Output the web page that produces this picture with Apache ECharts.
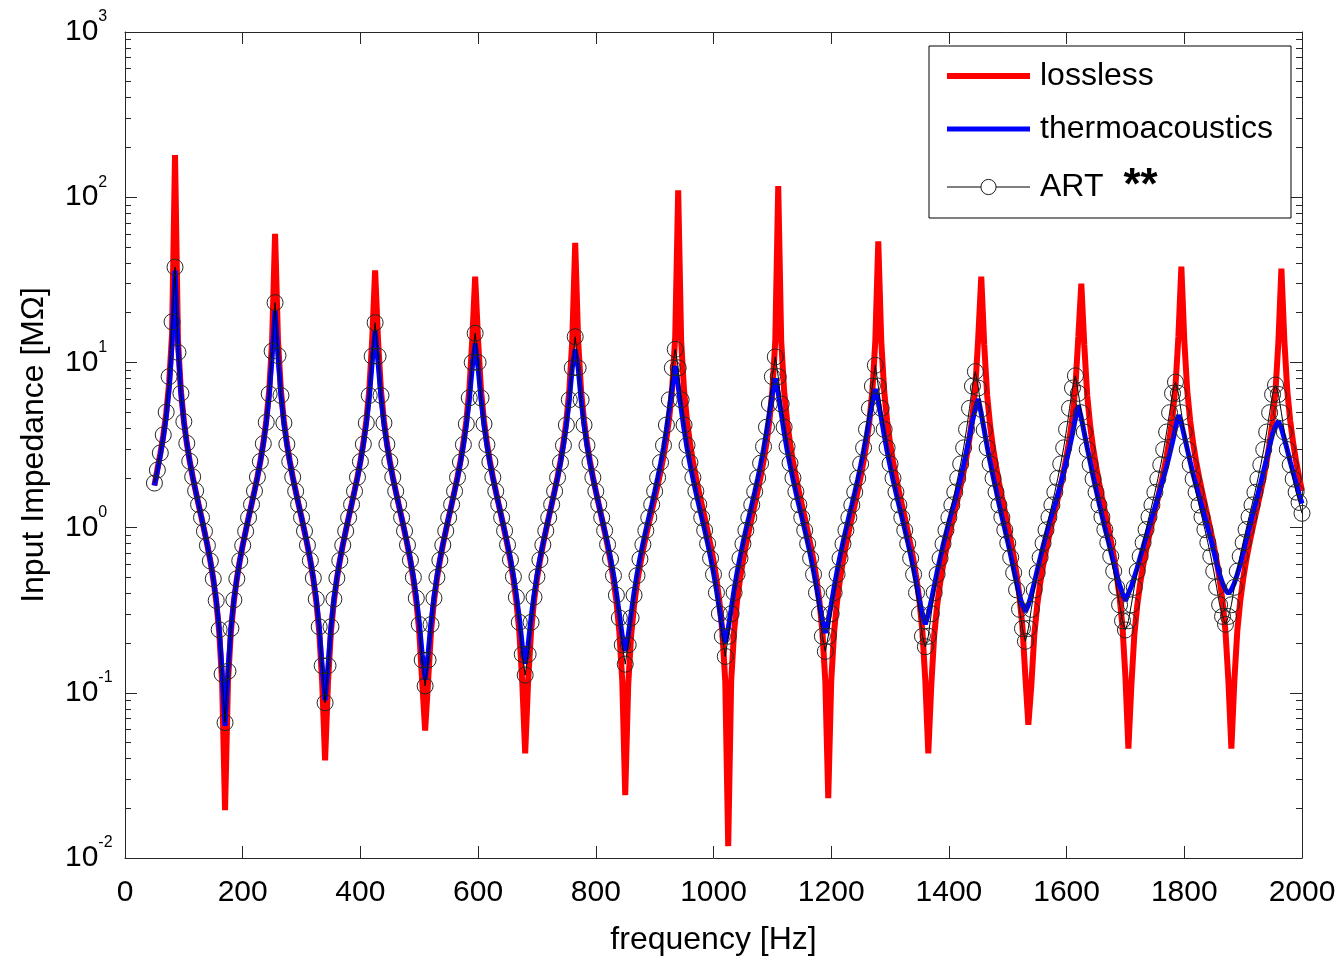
<!DOCTYPE html>
<html>
<head>
<meta charset="utf-8">
<script src="https://cdn.jsdelivr.net/npm/echarts@6/dist/echarts.min.js"></script>
<style>
html,body{margin:0;padding:0;background:#fff;}
#chart{width:1343px;height:960px;}
</style>
</head>
<body>
<div id="chart"></div>
<script>
// frequency sampling grid (Hz): 50, 55, ..., 2000
const frequency = [];
for (let f = 50; f <= 2000; f += 5) frequency.push(f);

// lossless model, |Z| in MOhm at each frequency
const lossless = [
  1.8, 2.25, 2.8, 3.6, 4.9, 7.5, 15,
  180,
  13.6, 6.73, 4.43, 3.25, 2.52, 2.03, 1.67, 1.38, 1.15, 0.95, 0.78, 0.628, 0.488, 0.358, 0.235, 0.117,
  0.0195,
  0.117, 0.235, 0.358, 0.488, 0.628, 0.78, 0.95, 1.15, 1.38, 1.67, 2.03, 2.52, 3.25, 4.43, 6.73, 13.6,
  60,
  13.6, 6.73, 4.43, 3.25, 2.52, 2.03, 1.67, 1.38, 1.15, 0.95, 0.78, 0.628, 0.488, 0.358, 0.235, 0.117,
  0.039,
  0.117, 0.235, 0.358, 0.488, 0.628, 0.78, 0.95, 1.15, 1.38, 1.67, 2.03, 2.52, 3.25, 4.43, 6.73, 13.6,
  36,
  13.6, 6.73, 4.43, 3.25, 2.52, 2.03, 1.67, 1.38, 1.15, 0.95, 0.78, 0.628, 0.488, 0.358, 0.235, 0.117,
  0.059,
  0.117, 0.235, 0.358, 0.488, 0.628, 0.78, 0.95, 1.15, 1.38, 1.67, 2.03, 2.52, 3.25, 4.43, 6.73, 13.6,
  33,
  13.6, 6.73, 4.43, 3.25, 2.52, 2.03, 1.67, 1.38, 1.15, 0.95, 0.78, 0.628, 0.488, 0.358, 0.235, 0.117,
  0.043,
  0.117, 0.235, 0.358, 0.488, 0.628, 0.78, 0.95, 1.15, 1.38, 1.67, 2.03, 2.52, 3.25, 4.43, 6.73, 13.6,
  53,
  13.6, 6.73, 4.43, 3.25, 2.52, 2.03, 1.67, 1.38, 1.15, 0.95, 0.78, 0.628, 0.488, 0.358, 0.235, 0.117,
  0.024,
  0.11, 0.222, 0.337, 0.458, 0.587, 0.727, 0.882, 1.056, 1.26, 1.5, 1.8, 2.18, 2.7, 3.46, 4.7, 7.14, 14.4,
  110,
  13.6, 6.73, 4.43, 3.25, 2.52, 2.03, 1.67, 1.38, 1.15, 0.95, 0.78, 0.628, 0.488, 0.358, 0.235, 0.117,
  0.0118,
  0.117, 0.235, 0.358, 0.488, 0.628, 0.78, 0.95, 1.15, 1.38, 1.67, 2.03, 2.52, 3.25, 4.43, 6.73, 13.6,
  117,
  13.6, 6.73, 4.43, 3.25, 2.52, 2.03, 1.67, 1.38, 1.15, 0.95, 0.78, 0.628, 0.488, 0.358, 0.235, 0.117,
  0.023,
  0.117, 0.235, 0.358, 0.488, 0.628, 0.78, 0.95, 1.15, 1.38, 1.67, 2.03, 2.52, 3.25, 4.43, 6.73, 13.6,
  54,
  13.6, 6.73, 4.43, 3.25, 2.52, 2.03, 1.67, 1.38, 1.15, 0.95, 0.78, 0.628, 0.488, 0.358, 0.235, 0.117,
  0.043,
  0.11, 0.222, 0.337, 0.458, 0.587, 0.727, 0.882, 1.056, 1.26, 1.5, 1.8, 2.18, 2.7, 3.46, 4.7, 7.14, 14.4,
  33,
  12.8, 6.33, 4.15, 3.04, 2.36, 1.88, 1.53, 1.26, 1.033, 0.841, 0.673, 0.522, 0.382, 0.25, 0.124,
  0.064,
  0.11, 0.222, 0.337, 0.458, 0.587, 0.727, 0.882, 1.056, 1.26, 1.5, 1.8, 2.18, 2.7, 3.46, 4.7, 7.14, 14.4,
  30,
  12.8, 6.33, 4.15, 3.04, 2.36, 1.88, 1.53, 1.26, 1.033, 0.841, 0.673, 0.522, 0.382, 0.25, 0.124,
  0.046,
  0.11, 0.222, 0.337, 0.458, 0.587, 0.727, 0.882, 1.056, 1.26, 1.5, 1.8, 2.18, 2.7, 3.46, 4.7, 7.14, 14.4,
  38,
  13.6, 6.73, 4.43, 3.25, 2.52, 2.03, 1.67, 1.38, 1.15, 0.95, 0.78, 0.628, 0.488, 0.358, 0.235, 0.117,
  0.046,
  0.117, 0.235, 0.358, 0.488, 0.628, 0.78, 0.95, 1.15, 1.38, 1.67, 2.03, 2.52, 3.25, 4.43, 6.73, 13.6,
  37,
  13.6, 6.73, 4.43, 3.25, 2.52, 2.03, 1.67
];

// thermoacoustic (lossy) model
const thermoacoustics = [
  1.8, 2.2, 2.75, 3.5, 4.7, 7.0, 13,
  36,
  12.5, 6.6, 4.4, 3.24, 2.52, 2.03, 1.67, 1.38, 1.15, 0.95, 0.78, 0.63, 0.49, 0.365, 0.245, 0.135,
  0.063,
  0.135, 0.245, 0.365, 0.49, 0.63, 0.78, 0.95, 1.15, 1.38, 1.66, 2.02, 2.51, 3.2, 4.3, 6.31, 10.9,
  20.5,
  10.9, 6.31, 4.3, 3.2, 2.51, 2.02, 1.66, 1.38, 1.15, 0.953, 0.783, 0.632, 0.495, 0.369, 0.251, 0.146,
  0.09,
  0.146, 0.251, 0.369, 0.495, 0.632, 0.783, 0.953, 1.15, 1.38, 1.66, 2.01, 2.5, 3.18, 4.24, 6.1, 10.0,
  15.5,
  10.0, 6.1, 4.24, 3.18, 2.5, 2.01, 1.66, 1.38, 1.15, 0.957, 0.787, 0.638, 0.504, 0.379, 0.267, 0.171,
  0.12,
  0.171, 0.267, 0.379, 0.504, 0.638, 0.787, 0.957, 1.15, 1.38, 1.66, 2.01, 2.48, 3.15, 4.18, 5.94, 9.27,
  13,
  9.27, 5.94, 4.18, 3.15, 2.48, 2.01, 1.66, 1.38, 1.15, 0.96, 0.79, 0.645, 0.512, 0.39, 0.284, 0.195,
  0.15,
  0.195, 0.284, 0.39, 0.512, 0.645, 0.79, 0.96, 1.15, 1.38, 1.66, 2.01, 2.48, 3.15, 4.18, 5.94, 9.27,
  12,
  9.27, 5.94, 4.18, 3.15, 2.48, 2.01, 1.66, 1.38, 1.15, 0.964, 0.798, 0.652, 0.521, 0.404, 0.301, 0.22,
  0.18,
  0.22, 0.301, 0.404, 0.521, 0.652, 0.798, 0.964, 1.15, 1.37, 1.64, 1.99, 2.43, 3.04, 3.93, 5.27, 7.19,
  9.5,
  7.19, 5.27, 3.93, 3.04, 2.43, 1.99, 1.64, 1.37, 1.15, 0.968, 0.805, 0.66, 0.533, 0.42, 0.32, 0.245,
  0.2,
  0.245, 0.32, 0.42, 0.533, 0.66, 0.805, 0.968, 1.15, 1.37, 1.635, 1.97, 2.4, 2.97, 3.79, 4.96, 6.5,
  8,
  6.5, 4.96, 3.79, 2.97, 2.4, 1.97, 1.635, 1.37, 1.16, 0.973, 0.811, 0.67, 0.545, 0.435, 0.341, 0.273,
  0.23,
  0.273, 0.341, 0.435, 0.545, 0.67, 0.811, 0.973, 1.16, 1.37, 1.63, 1.95, 2.37, 2.91, 3.65, 4.65, 5.81,
  6.9,
  5.81, 4.65, 3.65, 2.91, 2.37, 1.95, 1.63, 1.37, 1.16, 0.977, 0.82, 0.68, 0.56, 0.45, 0.36, 0.3,
  0.26,
  0.3, 0.36, 0.44, 0.54, 0.65, 0.78, 0.92, 1.08, 1.26, 1.45, 1.7, 2.0, 2.4, 2.9, 3.55, 4.4, 5.3,
  6.0,
  4.9, 3.9, 3.1, 2.5, 2.05, 1.7, 1.4, 1.17, 0.98, 0.82, 0.68, 0.56, 0.46, 0.385, 0.34,
  0.31,
  0.34, 0.39, 0.46, 0.55, 0.65, 0.77, 0.9, 1.05, 1.2, 1.37, 1.58, 1.84, 2.16, 2.56, 3.06, 3.7, 4.6,
  5.5,
  4.6, 3.75, 3.05, 2.5, 2.05, 1.7, 1.42, 1.19, 1.0, 0.85, 0.72, 0.61, 0.52, 0.45, 0.4,
  0.36,
  0.4, 0.44, 0.5, 0.57, 0.66, 0.76, 0.88, 1.01, 1.16, 1.32, 1.52, 1.75, 2.02, 2.35, 2.78, 3.3, 4.0,
  4.8,
  4.3, 3.6, 3.0, 2.5, 2.1, 1.8, 1.55, 1.34, 1.15, 0.99, 0.85, 0.72, 0.61, 0.52, 0.46, 0.42,
  0.4,
  0.42, 0.46, 0.52, 0.6, 0.71, 0.84, 0.99, 1.16, 1.36, 1.59, 1.87, 2.21, 2.62, 3.13, 3.68, 4.1,
  4.4,
  4.0, 3.45, 2.95, 2.5, 2.15, 1.85, 1.6, 1.4
];

// ART measurement / computation
const artValues = [
  1.86, 2.23, 2.83, 3.64, 5.0, 8.2, 17.6,
  37.7,
  11.5, 6.5, 4.38, 3.24, 2.52, 2.03, 1.67, 1.38, 1.15, 0.95, 0.78, 0.628, 0.49, 0.362, 0.241, 0.13,
  0.066,
  0.135, 0.245, 0.365, 0.49, 0.63, 0.78, 0.95, 1.15, 1.38, 1.665, 2.025, 2.515, 3.22, 4.34, 6.45, 11.7,
  23,
  11.0, 6.31, 4.3, 3.2, 2.51, 2.02, 1.66, 1.38, 1.15, 0.953, 0.783, 0.632, 0.495, 0.369, 0.251, 0.146,
  0.087,
  0.146, 0.251, 0.369, 0.495, 0.632, 0.783, 0.953, 1.15, 1.38, 1.66, 2.02, 2.51, 3.2, 4.3, 6.31, 10.9,
  17.4,
  10.9, 6.31, 4.3, 3.2, 2.51, 2.02, 1.66, 1.38, 1.15, 0.955, 0.785, 0.635, 0.5, 0.374, 0.259, 0.158,
  0.11,
  0.158, 0.259, 0.374, 0.5, 0.635, 0.785, 0.955, 1.15, 1.38, 1.66, 2.015, 2.495, 3.18, 4.24, 6.1, 10.0,
  15,
  10.0, 6.1, 4.24, 3.18, 2.495, 2.015, 1.66, 1.38, 1.15, 0.957, 0.787, 0.638, 0.504, 0.379, 0.267, 0.171,
  0.128,
  0.171, 0.267, 0.379, 0.504, 0.638, 0.787, 0.957, 1.15, 1.38, 1.66, 2.01, 2.48, 3.15, 4.18, 5.94, 9.27,
  14.3,
  9.27, 5.94, 4.18, 3.15, 2.48, 2.01, 1.66, 1.38, 1.15, 0.96, 0.79, 0.645, 0.512, 0.39, 0.284, 0.195,
  0.149,
  0.195, 0.284, 0.39, 0.512, 0.645, 0.79, 0.96, 1.15, 1.38, 1.66, 2.01, 2.48, 3.15, 4.18, 5.94, 9.27,
  12,
  9.27, 5.94, 4.18, 3.15, 2.48, 2.01, 1.66, 1.38, 1.15, 0.964, 0.798, 0.652, 0.521, 0.404, 0.301, 0.22,
  0.166,
  0.22, 0.301, 0.404, 0.521, 0.652, 0.798, 0.964, 1.15, 1.375, 1.65, 2.0, 2.455, 3.095, 4.055, 5.6, 8.2,
  10.8,
  8.2, 5.6, 4.055, 3.095, 2.455, 2.0, 1.65, 1.375, 1.15, 0.964, 0.798, 0.652, 0.521, 0.404, 0.301, 0.22,
  0.178,
  0.22, 0.301, 0.404, 0.521, 0.652, 0.798, 0.964, 1.15, 1.37, 1.64, 1.99, 2.43, 3.04, 3.93, 5.27, 7.19,
  9.6,
  7.19, 5.27, 3.93, 3.04, 2.43, 1.99, 1.64, 1.37, 1.15, 0.964, 0.798, 0.652, 0.521, 0.404, 0.301, 0.22,
  0.19,
  0.22, 0.301, 0.404, 0.521, 0.652, 0.798, 0.964, 1.15, 1.37, 1.64, 1.99, 2.43, 3.04, 3.93, 5.27, 7.19,
  8.8,
  7.0, 5.2, 3.9, 3.04, 2.43, 1.99, 1.64, 1.37, 1.155, 0.968, 0.805, 0.66, 0.533, 0.42, 0.32, 0.245,
  0.205,
  0.245, 0.32, 0.42, 0.533, 0.66, 0.805, 0.968, 1.155, 1.37, 1.64, 1.99, 2.43, 3.04, 3.93, 5.27, 7.0,
  8.3,
  6.5, 4.96, 3.79, 2.97, 2.4, 1.97, 1.635, 1.37, 1.16, 0.973, 0.811, 0.67, 0.545, 0.435, 0.341, 0.273,
  0.24,
  0.273, 0.341, 0.435, 0.545, 0.67, 0.811, 0.973, 1.16, 1.37, 1.635, 1.97, 2.4, 2.97, 3.79, 4.96, 6.5,
  7.6,
  6.5, 4.96, 3.79, 2.97, 2.4, 1.97, 1.635, 1.37, 1.16, 0.973, 0.811, 0.67, 0.545, 0.435, 0.341, 0.29,
  0.26,
  0.29, 0.341, 0.435, 0.545, 0.67, 0.811, 0.973, 1.16, 1.37, 1.635, 1.97, 2.4, 2.97, 3.79, 4.96, 6.4,
  7.3,
  6.4, 4.96, 3.79, 2.97, 2.4, 1.97, 1.64, 1.42, 1.22
];

const seriesNames = ['lossless', 'thermoacoustics', 'ART'];
const xTickValues = [0, 200, 400, 600, 800, 1000, 1200, 1400, 1600, 1800, 2000];
const yMinorTicks = [
  0.02, 0.03, 0.04, 0.05, 0.06, 0.07, 0.08, 0.09,
  0.2, 0.3, 0.4, 0.5, 0.6, 0.7, 0.8, 0.9,
  2, 3, 4, 5, 6, 7, 8, 9,
  20, 30, 40, 50, 60, 70, 80, 90,
  200, 300, 400, 500, 600, 700, 800, 900
];

const FONT = '"Liberation Sans", Arial, Helvetica, sans-serif';
const FRAME = '#262626';

function pairs(vals) {
  return frequency.map((f, i) => [f, vals[i]]);
}

const chart = echarts.init(document.getElementById('chart'), null, {renderer: 'canvas'});

const xBase = {
  type: 'value', min: 0, max: 2000, interval: 200, offset: 0,
  axisLine: {show: true, onZero: false, lineStyle: {color: FRAME, width: 1}},
  axisTick: {show: true, inside: true, length: 12, lineStyle: {color: FRAME, width: 1}},
  splitLine: {show: false}
};
const yBase = {
  type: 'log', logBase: 10, min: 0.01, max: 1000, offset: 0,
  splitLine: {show: false},
  minorTick: {show: false}
};

const option = {
  animation: false,
  backgroundColor: '#fff',
  grid: {left: 125, right: 41, top: 32, bottom: 102, containLabel: false, outerBoundsMode: 'none'},
  legend: {
    orient: 'vertical',
    left: 929, top: 46,
    data: [
      {name: 'lossless', itemStyle: {color: 'rgba(0,0,0,0)', borderWidth: 0}, lineStyle: {width: 6, color: '#ff0000'}},
      {name: 'thermoacoustics', itemStyle: {color: 'rgba(0,0,0,0)', borderWidth: 0}, lineStyle: {width: 5, color: '#0000ff'}},
      {name: 'ART', itemStyle: {color: '#fff', borderColor: '#1a1a1a', borderWidth: 1}, lineStyle: {width: 1, color: '#000'}}
    ],
    itemWidth: 83, itemHeight: 19, itemGap: 19,
    backgroundColor: '#fff', borderColor: '#000', borderWidth: 1, borderRadius: 0,
    padding: [13, 18, 9, 15],
    selectedMode: false,
    textStyle: {
      fontSize: 32, color: '#000', fontFamily: FONT, lineHeight: 34, padding: [0, 0, 0, 5],
      rich: {st: {fontSize: 44, fontWeight: 'bold', color: '#000', fontFamily: FONT, lineHeight: 34, height: 34, padding: [0, 0, 0, 20]}}
    },
    formatter: function (name) { return name === 'ART' ? 'ART{st|**}' : name; }
  },
  xAxis: [
    Object.assign({}, xBase, {
      position: 'bottom',
      axisLabel: {show: true, fontSize: 30, color: '#000', fontFamily: FONT, margin: 20,
        customValues: xTickValues,
        formatter: function (v) { return String(v); }},
      name: 'frequency [Hz]', nameLocation: 'middle', nameGap: 66,
      nameTextStyle: {fontSize: 32, color: '#000', fontFamily: FONT}
    }),
    Object.assign({}, xBase, {position: 'top', axisLabel: {show: false}})
  ],
  yAxis: [
    Object.assign({}, yBase, {
      position: 'left',
      axisLine: {show: true, onZero: false, lineStyle: {color: FRAME, width: 1}},
      axisTick: {show: true, inside: true, length: 12, lineStyle: {color: FRAME, width: 1}},
      axisLabel: {
        show: true, align: 'left', margin: 60,
        formatter: function (v) { return '{b|10}{s|' + Math.round(Math.log10(v)) + '}'; },
        rich: {
          b: {fontSize: 30, lineHeight: 46, color: '#000', fontFamily: FONT},
          s: {fontSize: 16, verticalAlign: 'top', color: '#000', fontFamily: FONT}
        }
      },
      name: 'Input Impedance [M\u03A9]', nameLocation: 'middle', nameGap: 75, nameRotate: 90,
      nameTextStyle: {fontSize: 32, color: '#000', fontFamily: FONT}
    }),
    Object.assign({}, yBase, {
      position: 'left',
      axisLine: {show: false, onZero: false},
      axisTick: {show: true, inside: true, length: 6, customValues: yMinorTicks, lineStyle: {color: FRAME, width: 1}},
      axisLabel: {show: false}
    }),
    Object.assign({}, yBase, {
      position: 'right',
      axisLine: {show: true, onZero: false, lineStyle: {color: FRAME, width: 1}},
      axisTick: {show: true, inside: true, length: 12, lineStyle: {color: FRAME, width: 1}},
      axisLabel: {show: false}
    }),
    Object.assign({}, yBase, {
      position: 'right',
      axisLine: {show: false, onZero: false},
      axisTick: {show: true, inside: true, length: 6, customValues: yMinorTicks, lineStyle: {color: FRAME, width: 1}},
      axisLabel: {show: false}
    })
  ],
  series: [
    {
      name: 'lossless', type: 'line', xAxisIndex: 0, yAxisIndex: 0,
      data: pairs(lossless), symbol: 'none', z: 2,
      lineStyle: {color: '#ff0000', width: 6},
      itemStyle: {color: '#ff0000'}
    },
    {
      name: 'thermoacoustics', type: 'line', xAxisIndex: 0, yAxisIndex: 0,
      data: pairs(thermoacoustics), symbol: 'none', z: 3,
      lineStyle: {color: '#0000ff', width: 5},
      itemStyle: {color: '#0000ff'}
    },
    {
      name: 'ART', type: 'line', xAxisIndex: 0, yAxisIndex: 0,
      data: pairs(artValues), symbol: 'circle', symbolSize: 16, showSymbol: true, z: 4,
      lineStyle: {color: '#000', width: 1},
      itemStyle: {color: 'rgba(255,255,255,0)', borderColor: '#262626', borderWidth: 1}
    }
  ]
};

chart.setOption(option);
</script>
</body>
</html>
